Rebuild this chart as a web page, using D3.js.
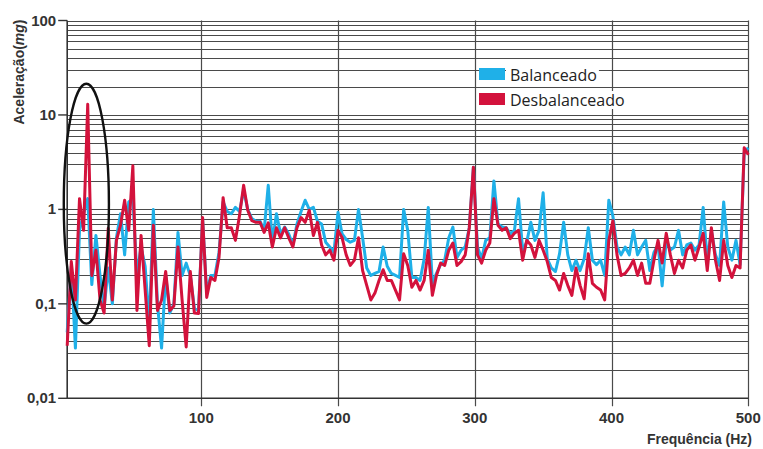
<!DOCTYPE html>
<html>
<head>
<meta charset="utf-8">
<script src="https://cdn.jsdelivr.net/npm/d3@7"></script>
<style>
  body { margin: 0; background: #fff; }
  svg { display: block; }
</style>
</head>
<body>
<div class="chart"></div>
<script>
// frequency bins (Hz), one every 3 Hz
const freqHz = d3.range(2, 501, 3);

// acceleration in mg
const balanceado = [
  0.05, 0.25, 0.034, 0.6, 0.9, 1.3, 0.16, 0.53, 0.2, 0.09,
  0.24, 0.1, 0.5, 0.9, 0.33, 1.2, 1.3, 0.2, 0.4, 0.25,
  0.06, 1.0, 0.1, 0.034, 0.2, 0.08, 0.1, 0.57, 0.2, 0.27,
  0.2, 0.09, 0.085, 0.8, 0.13, 0.2, 0.2, 0.35, 1.2, 0.95,
  0.9, 1.05, 0.95, 1.6, 1.0, 0.8, 0.75, 0.75, 0.6, 1.8,
  0.45, 0.9, 0.55, 0.65, 0.55, 0.42, 0.7, 0.95, 1.25, 1.0,
  1.05, 0.75, 0.7, 0.45, 0.4, 0.35, 0.93, 0.55, 0.48, 0.45,
  0.47, 1.0, 0.5, 0.24, 0.2, 0.21, 0.22, 0.4, 0.25, 0.21,
  0.2, 0.19, 1.0, 0.6, 0.19, 0.19, 0.177, 0.3, 1.05, 0.165,
  0.21, 0.26, 0.29, 0.5, 0.65, 0.31, 0.37, 0.4, 0.64, 2.8,
  0.4, 0.3, 0.47, 0.5, 2.0, 0.7, 0.65, 0.64, 0.55, 0.6,
  1.3, 0.37, 0.45, 0.73, 0.47, 0.6, 1.5, 0.3, 0.24, 0.22,
  0.34, 0.73, 0.33, 0.225, 0.29, 0.225, 0.3, 0.64, 0.29, 0.26,
  0.29, 0.2, 1.25, 0.85, 0.4, 0.33, 0.4, 0.33, 0.6, 0.33,
  0.4, 0.47, 0.225, 0.35, 0.42, 0.155, 0.47, 0.37, 0.4, 0.6,
  0.33, 0.42, 0.44, 0.37, 0.42, 1.05, 0.29, 0.6, 0.33, 0.255,
  1.2, 0.4, 0.29, 0.47, 0.26, 4.0, 4.5
];

const desbalanceado = [
  0.036, 0.28, 0.11, 1.3, 0.6, 13, 0.2, 0.37, 0.11, 0.08,
  0.63, 0.11, 0.47, 0.68, 1.25, 0.6, 2.9, 0.085, 0.53, 0.14,
  0.036, 0.68, 0.085, 0.11, 0.22, 0.085, 0.095, 0.4, 0.11, 0.035,
  0.22, 0.08, 0.079, 0.82, 0.117, 0.19, 0.177, 0.31, 1.33, 0.64,
  0.64, 0.47, 0.86, 1.8, 0.98, 0.76, 0.73, 0.73, 0.57, 0.72,
  0.4, 0.64, 0.5, 0.64, 0.5, 0.4, 0.64, 0.82, 0.73, 0.98,
  0.53, 0.73, 0.42, 0.33, 0.37, 0.29, 0.6, 0.5, 0.33, 0.255,
  0.29, 0.5, 0.225, 0.157, 0.11, 0.13, 0.177, 0.23, 0.177, 0.177,
  0.14, 0.11, 0.34, 0.255, 0.15, 0.177, 0.14, 0.177, 0.37, 0.123,
  0.2, 0.27, 0.255, 0.37, 0.44, 0.255, 0.28, 0.33, 0.64, 2.8,
  0.33, 0.27, 0.37, 0.44, 1.3, 0.68, 0.6, 0.64, 0.49, 0.56,
  0.6, 0.29, 0.47, 0.42, 0.31, 0.47, 0.37, 0.28, 0.19, 0.177,
  0.14, 0.21, 0.157, 0.123, 0.24, 0.157, 0.113, 0.34, 0.165, 0.15,
  0.14, 0.11, 0.47, 0.76, 0.33, 0.2, 0.21, 0.24, 0.29, 0.2,
  0.27, 0.165, 0.165, 0.29, 0.47, 0.27, 0.56, 0.33, 0.21, 0.29,
  0.24, 0.37, 0.42, 0.29, 0.4, 0.56, 0.225, 0.64, 0.29, 0.177,
  0.47, 0.255, 0.19, 0.255, 0.24, 4.5, 3.8
];

const xTicks = [100, 200, 300, 400, 500];
const yTicks = [0.01, 0.1, 1, 10, 100];
const yTickLabels = ['0,01', '0,1', '1', '10', '100'];
const seriesNames = ['Balanceado', 'Desbalanceado'];
const seriesColors = ['#1fb0e8', '#d3123c'];

const width = 763;
const height = 449;

const x = d3.scaleLinear()
  .domain([2, 500])
  .range([67.2, 748.3]);

const y = d3.scaleLog()
  .domain([0.01, 100])
  .range([398.3, 20.5]);

const svg = d3.select('.chart')
  .append('svg')
  .attr('width', width)
  .attr('height', height);

const gridColor = '#4a4a4a';

// horizontal grid (1..9 per decade)
svg.append('g')
  .selectAll('line')
  .data(y.ticks())
  .enter()
  .append('line')
  .attr('x1', x(2))
  .attr('x2', x(500))
  .attr('y1', d => Math.round(y(d)) + 0.5)
  .attr('y2', d => Math.round(y(d)) + 0.5)
  .attr('stroke', gridColor)
  .attr('stroke-width', 1.2);

// vertical grid
svg.append('g')
  .selectAll('line')
  .data(xTicks)
  .enter()
  .append('line')
  .attr('x1', d => Math.round(x(d)) + 0.5)
  .attr('x2', d => Math.round(x(d)) + 0.5)
  .attr('y1', y(100))
  .attr('y2', y(0.01) + 8)
  .attr('stroke', gridColor)
  .attr('stroke-width', 1.2);

// left axis line + bottom line + ticks
svg.append('line')
  .attr('x1', x(2)).attr('x2', x(2))
  .attr('y1', y(100)).attr('y2', y(0.01))
  .attr('stroke', '#333').attr('stroke-width', 1.6);

svg.append('line')
  .attr('x1', x(2)).attr('x2', x(500))
  .attr('y1', y(0.01)).attr('y2', y(0.01))
  .attr('stroke', '#333').attr('stroke-width', 1.6);

svg.append('g')
  .selectAll('line')
  .data(yTicks)
  .enter()
  .append('line')
  .attr('x1', x(2) - 9)
  .attr('x2', x(2))
  .attr('y1', d => y(d))
  .attr('y2', d => y(d))
  .attr('stroke', '#333')
  .attr('stroke-width', 1.4);

const labelFont = '"Liberation Sans", Arial, sans-serif';

svg.append('g')
  .selectAll('text')
  .data(yTicks)
  .enter()
  .append('text')
  .attr('x', x(2) - 11)
  .attr('y', d => y(d) + 5)
  .attr('text-anchor', 'end')
  .style('font-family', labelFont)
  .style('font-size', '15px')
  .style('font-weight', 'bold')
  .style('fill', '#333')
  .text((d, i) => yTickLabels[i]);

svg.append('g')
  .selectAll('text')
  .data(xTicks)
  .enter()
  .append('text')
  .attr('x', d => x(d))
  .attr('y', 423)
  .attr('text-anchor', 'middle')
  .style('font-family', labelFont)
  .style('font-size', '15px')
  .style('font-weight', 'bold')
  .style('fill', '#333')
  .text(d => d);

// axis titles
const yTitle = svg.append('text')
  .attr('transform', 'translate(24,72) rotate(-90)')
  .attr('text-anchor', 'middle')
  .style('font-family', labelFont)
  .style('font-size', '14px')
  .style('font-weight', 'bold')
  .style('fill', '#333');
yTitle.append('tspan').text('Aceleração(');
yTitle.append('tspan').style('font-style', 'italic').text('mg');
yTitle.append('tspan').text(')');

svg.append('text')
  .attr('x', 752)
  .attr('y', 444)
  .attr('text-anchor', 'end')
  .style('font-family', labelFont)
  .style('font-size', '14px')
  .style('font-weight', 'bold')
  .style('fill', '#333')
  .text('Frequência (Hz)');

// series lines
const series = [balanceado, desbalanceado];

const line = d3.line()
  .x((d, i) => x(freqHz[i]))
  .y(d => y(d));

svg.append('g')
  .selectAll('path')
  .data(series)
  .enter()
  .append('path')
  .attr('d', line)
  .attr('fill', 'none')
  .attr('stroke', (d, i) => seriesColors[i])
  .attr('stroke-width', 3)
  .attr('stroke-linejoin', 'round');

// ellipse around the 15 Hz peak
const ecx = x(16);
const ecy = y(1.15);
svg.append('ellipse')
  .attr('cx', ecx)
  .attr('cy', ecy)
  .attr('rx', x(16 + 16.5) - ecx)
  .attr('ry', ecy - y(1.15 * Math.pow(10, 1.27)))
  .attr('fill', 'none')
  .attr('stroke', '#111')
  .attr('stroke-width', 2.4);

// legend
const legend = svg.append('g');
seriesNames.forEach((name, i) => {
  const ly = 74 + i * 25;
  const t = legend.append('text')
    .attr('x', 510)
    .attr('y', ly + 7)
    .style('font-family', '"Open Sans", sans-serif')
    .style('font-size', '16px')
    .style('fill', '#222')
    .text(name);
  const bb = t.node().getBBox();
  legend.insert('rect', 'text')
    .attr('x', 506)
    .attr('y', bb.y + 2)
    .attr('width', bb.width + 6)
    .attr('height', bb.height - 4)
    .attr('fill', '#fff');
  legend.append('rect')
    .attr('x', 479)
    .attr('y', ly - 6)
    .attr('width', 26)
    .attr('height', 12)
    .attr('fill', seriesColors[i]);
});
</script>
</body>
</html>
